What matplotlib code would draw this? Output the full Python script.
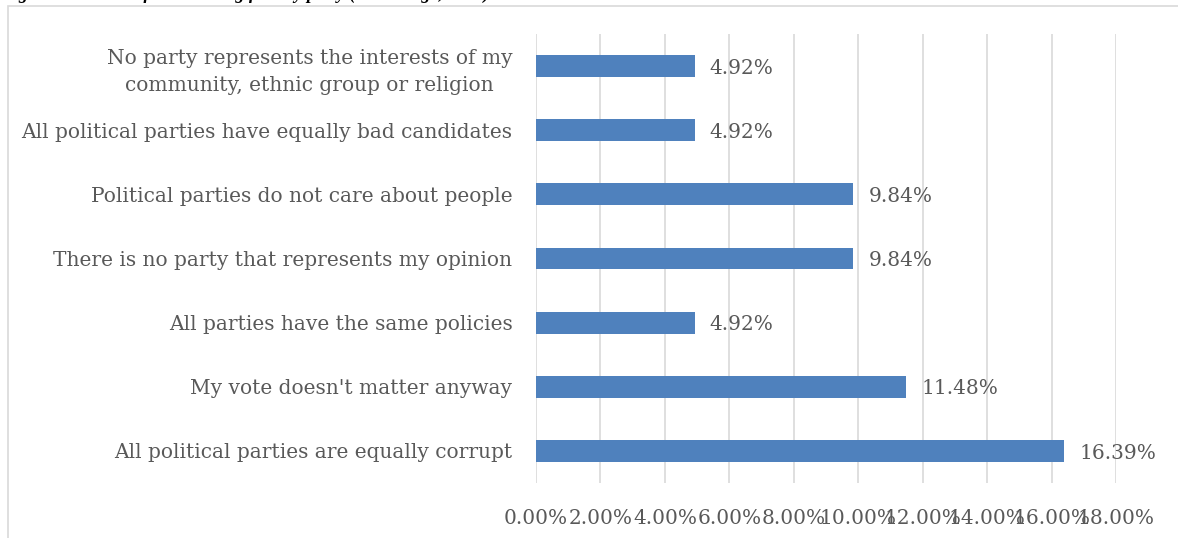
import numpy as np
import matplotlib
matplotlib.use("Agg")
import matplotlib.pyplot as plt
from matplotlib.patches import Rectangle

categories = [
	"All political parties are equally corrupt",
	"My vote doesn't matter anyway",
	"All parties have the same policies",
	"There is no party that represents my opinion",
	"Political parties do not care about people",
	"All political parties have equally bad candidates",
	"No party represents the interests of my\ncommunity, ethnic group or religion",
]
values = [16.39, 11.48, 4.92, 9.84, 9.84, 4.92, 4.92]
xticks = [0, 2, 4, 6, 8, 10, 12, 14, 16, 18]
title = "Figure 9: Reasons for not voting for any party (Percentage, 2019)"

W, H = 1178, 538
txt_col = "#595959"
bar_col = "#4F81BD"
grid_col = "#D9D9D9"

plt.rcParams['font.family'] = ['DejaVu Serif', 'Liberation Serif']

fig = plt.figure(figsize=(W/100, H/100), dpi=100)

# chart border (runs off the right and bottom edge)
fig.patches.append(Rectangle((8/W, -0.1), 1.2, 1 - 6/H + 0.1, transform=fig.transFigure,
	fill=False, edgecolor="#D9D9D9", linewidth=1.2))

# title, mostly cut off by the top edge
fig.text(2/W, 1 + 1/H, title, ha="left", va="baseline", fontsize=13,
	fontstyle="italic", fontweight="bold", color="black",
	family=['Liberation Serif', 'DejaVu Serif'])

ax = fig.add_axes([536/W, 1 - 483/H, (1116-536)/W, (483-34)/H])
y = np.arange(len(categories))
ax.barh(y, values, height=0.34, color=bar_col, zorder=3)
ax.set_xlim(0, 18)
ax.set_ylim(-0.5, len(categories) - 0.5)

for xv in xticks:
	ax.axvline(xv, color=grid_col, linewidth=1.2, zorder=1)

for yi, v in zip(y, values):
	ax.annotate("%.2f%%" % v, (v, yi), xytext=(11, -1.5), textcoords="offset points",
		ha="left", va="center", fontsize=14.5, color=txt_col)

ax.set_xticks(xticks)
ax.set_xticklabels(["%.2f%%" % t for t in xticks])
ax.set_yticks(y)
ax.set_yticklabels(categories, multialignment="center", linespacing=1.55)
ax.tick_params(axis="x", length=0, pad=19, labelsize=14.5, labelcolor=txt_col)
ax.tick_params(axis="y", length=0, pad=17, labelsize=14.5, labelcolor=txt_col)
for s in ax.spines.values():
	s.set_visible(False)

fig.savefig("out.png", dpi=100)
